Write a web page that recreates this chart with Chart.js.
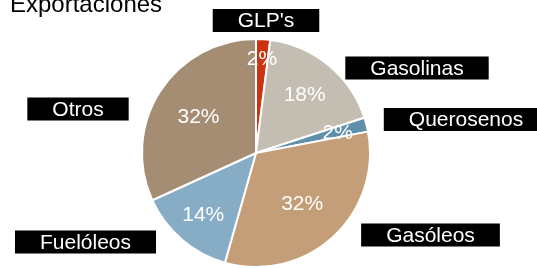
<!DOCTYPE html>
<html>
<head>
<meta charset="utf-8">
<script src="https://cdn.jsdelivr.net/npm/chart.js@4"></script>
<style>
  html, body { margin: 0; padding: 0; background: #fff; }
  #wrap { width: 537px; height: 268px; }
</style>
</head>
<body>
<div id="wrap"><canvas id="exportChart" width="537" height="268"></canvas></div>
<script>
const categories = ["GLP's", "Gasolinas", "Querosenos", "Gasóleos", "Fuelóleos", "Otros"];
const shares = [2, 18, 2, 32.4, 13.8, 31.8];
const sliceColors = ["#CC3311", "#C4BDB2", "#5F8FAA", "#C39E78", "#86ADC5", "#A58D74"];

// where the black name boxes sit (centre x, centre y) and where % labels go (fraction of radius)
const boxCentres = [[266, 20.5], [417, 68], [466, 119.5], [430.5, 235], [85.5, 242], [78, 109]];
const pctRadius = [0.83, 0.67, 0.74, 0.6, 0.71, 0.6];

const labelPlugin = {
  id: "labels",
  afterDraw(chart) {
    const ctx = chart.ctx;
    const arcs = chart.getDatasetMeta(0).data;
    const total = shares.reduce((a, b) => a + b, 0);
    ctx.save();
    ctx.font = "21px 'Liberation Sans', Arial, sans-serif";
    ctx.textAlign = "center";
    ctx.textBaseline = "middle";
    ctx.fillStyle = "#fff";
    arcs.forEach((arc, i) => {
      const mid = (arc.startAngle + arc.endAngle) / 2;
      const r = arc.outerRadius * pctRadius[i];
      const x = arc.x + Math.cos(mid) * r;
      const y = arc.y + Math.sin(mid) * r;
      ctx.fillText(Math.round(shares[i] / total * 100) + "%", x, y + 1);
    });
    categories.forEach((name, i) => {
      const [cx, cy] = boxCentres[i];
      const w = ctx.measureText(name).width + 50;
      ctx.fillStyle = "#000";
      ctx.fillRect(cx - w / 2, cy - 11.5, w, 23);
      ctx.fillStyle = "#fff";
      ctx.fillText(name, cx, cy + 1);
    });
    ctx.textAlign = "left";
    ctx.textBaseline = "alphabetic";
    ctx.fillStyle = "#000";
    ctx.font = "24px 'Liberation Sans', Arial, sans-serif";
    ctx.fillText("Exportaciones", 10, 12);
    ctx.restore();
  }
};

new Chart(document.getElementById("exportChart"), {
  type: "pie",
  data: {
    labels: categories,
    datasets: [{
      data: shares,
      backgroundColor: sliceColors,
      borderColor: "#fff",
      borderWidth: 2
    }]
  },
  options: {
    responsive: false,
    animation: false,
    layout: { padding: { left: 139, right: 164, top: 38, bottom: -4 } },
    plugins: {
      legend: { display: false },
      tooltip: { enabled: false }
    }
  },
  plugins: [labelPlugin]
});
</script>
</body>
</html>
